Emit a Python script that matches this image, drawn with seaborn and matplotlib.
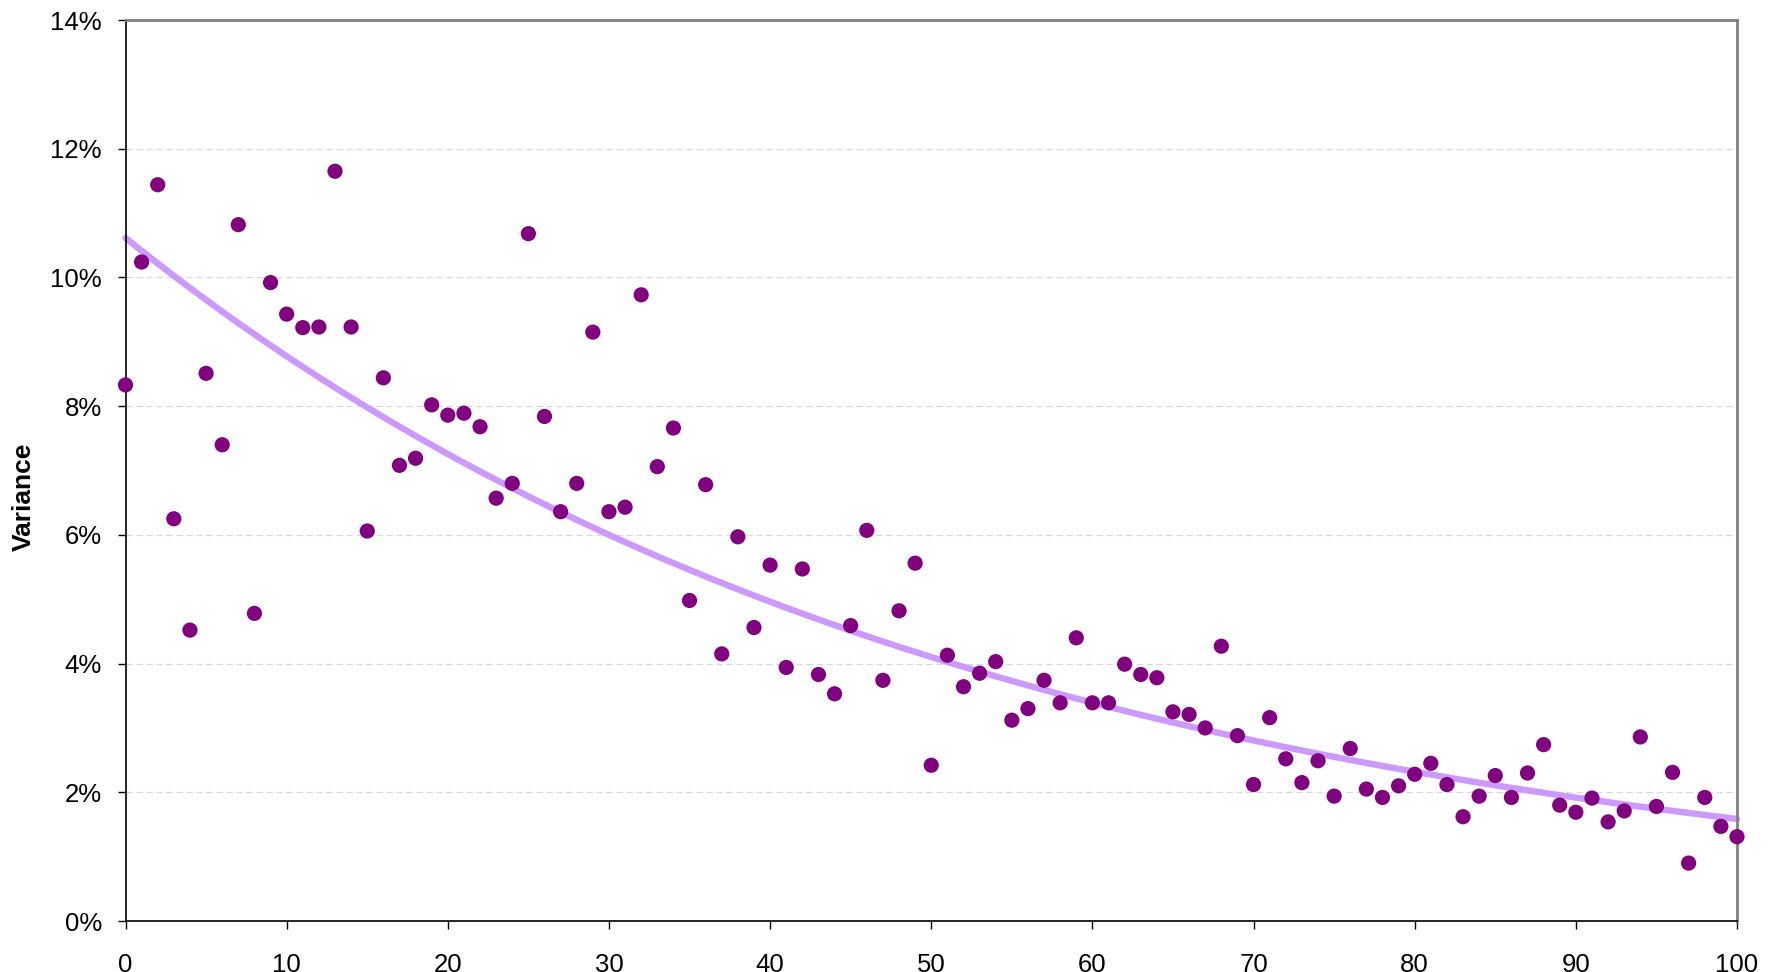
import numpy as np
import pandas as pd
import matplotlib
matplotlib.use("Agg")
import matplotlib.pyplot as plt
from matplotlib.ticker import PercentFormatter
import seaborn as sns

# ---- data ----
x_vals = list(range(0, 101))
variance_pct = [
    8.33, 10.24, 11.44, 6.25, 4.52, 8.51, 7.40, 10.82, 4.78, 9.92,
    9.43, 9.22, 9.23, 11.65, 9.23, 6.06, 8.44, 7.08, 7.19, 8.02,
    7.86, 7.89, 7.68, 6.57, 6.80, 10.68, 7.84, 6.36, 6.80, 9.15,
    6.36, 6.43, 9.73, 7.06, 7.66, 4.98, 6.78, 4.15, 5.97, 4.56,
    5.53, 3.94, 5.47, 3.83, 3.53, 4.59, 6.07, 3.74, 4.82, 5.56,
    2.42, 4.13, 3.64, 3.85, 4.03, 3.12, 3.30, 3.74, 3.39, 4.40,
    3.39, 3.39, 3.99, 3.83, 3.78, 3.25, 3.21, 3.00, 4.27, 2.88,
    2.12, 3.16, 2.52, 2.15, 2.49, 1.94, 2.68, 2.05, 1.92, 2.10,
    2.28, 2.45, 2.12, 1.62, 1.94, 2.26, 1.92, 2.30, 2.74, 1.80,
    1.69, 1.91, 1.54, 1.71, 2.86, 1.78, 2.31, 0.90, 1.92, 1.47,
    1.31,
]
y_ticks_pct = [0, 2, 4, 6, 8, 10, 12, 14]
x_ticks = list(range(0, 101, 10))
y_label = "Variance"

df = pd.DataFrame({"x": x_vals, "variance": np.array(variance_pct) / 100.0})

# exponential trendline (least squares on log y, as a spreadsheet trendline does)
b, a = np.polyfit(df["x"], np.log(df["variance"]), 1)
trend_x = np.linspace(0, 100, 400)
trend = pd.DataFrame({"x": trend_x, "fit": np.exp(a + b * trend_x)})

# ---- style ----
sns.set_theme(style="white")
plt.rcParams["font.family"] = ["Liberation Sans", "DejaVu Sans"]

fig = plt.figure(figsize=(17.82, 9.72), dpi=100)
ax = fig.add_axes([125.5 / 1782, (972 - 921) / 972, (1737 - 125.5) / 1782, (921 - 20) / 972])

sns.lineplot(data=trend, x="x", y="fit", ax=ax, color="#CC99FF", linewidth=4.6,
             zorder=2, clip_on=False)
sns.scatterplot(data=df, x="x", y="variance", ax=ax, color="#800080", s=120,
                edgecolor="none", linewidth=0, zorder=3, clip_on=False)

ax.set_xlim(0, 100)
ax.set_ylim(0, 0.14)
ax.set_xticks(x_ticks)
ax.set_yticks([v / 100 for v in y_ticks_pct])
ax.yaxis.set_major_formatter(PercentFormatter(1.0, decimals=0))

ax.grid(axis="y", color="#D9D9D9", linestyle=(0, (5, 3)), linewidth=0.9)
ax.grid(axis="x", visible=False)
ax.set_axisbelow(True)

for side in ["left", "bottom"]:
    ax.spines[side].set_color("black")
    ax.spines[side].set_linewidth(1.2)
for side in ["top", "right"]:
    ax.spines[side].set_color("#808080")
    ax.spines[side].set_linewidth(2.0)
    ax.spines[side].set_visible(True)

ax.tick_params(axis="both", which="major", direction="out", length=6, width=1.0,
               color="black", labelsize=18.5, labelcolor="black",
               left=True, bottom=True)
ax.tick_params(axis="y", pad=11)
ax.tick_params(axis="x", pad=17)

ax.set_xlabel("")
ax.set_ylabel(y_label, fontsize=19, fontweight="bold", color="black")
ax.yaxis.set_label_coords(-0.0555, 0.4706)

fig.savefig("out.png", dpi=100, facecolor="white")
